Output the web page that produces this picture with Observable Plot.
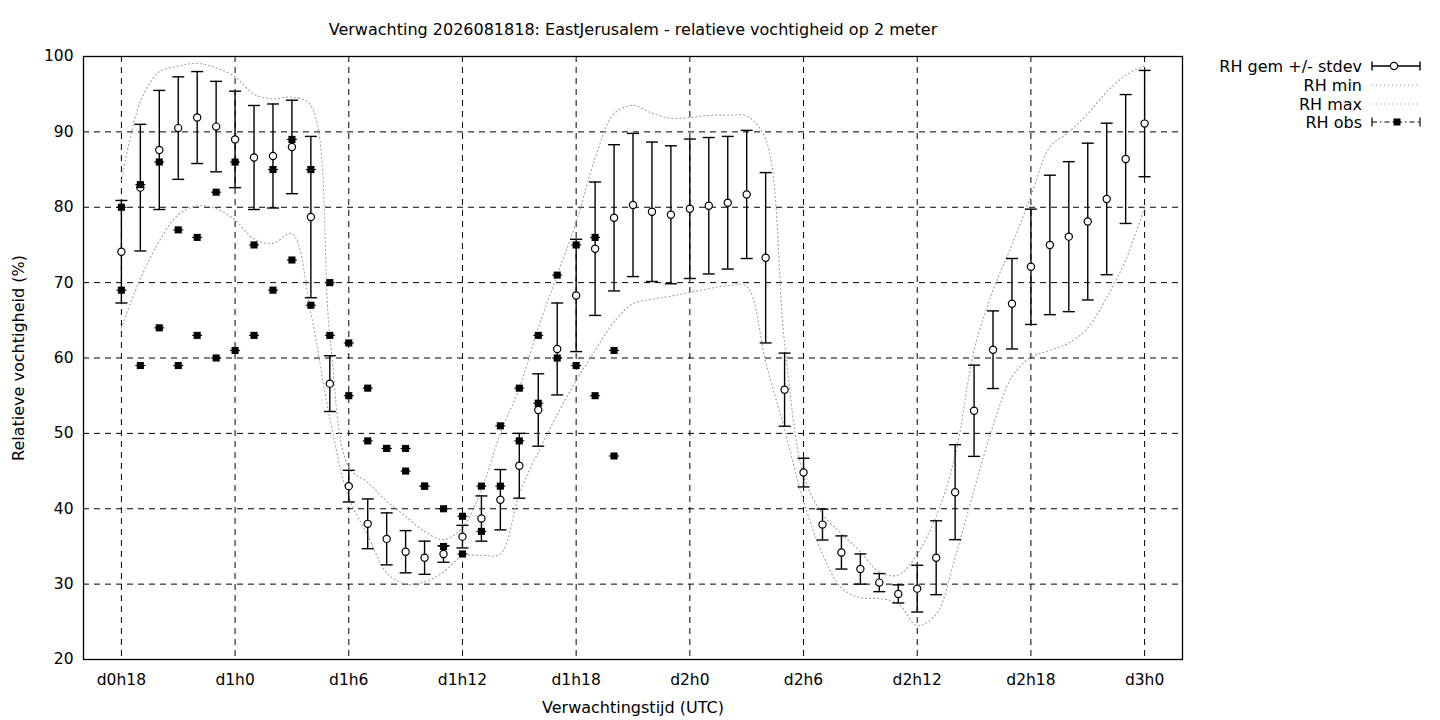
<!DOCTYPE html>
<html><head><meta charset="utf-8">
<script src="https://cdn.jsdelivr.net/npm/d3@7"></script>
<script src="https://cdn.jsdelivr.net/npm/@observablehq/plot@0.6"></script>
<style>
html,body{margin:0;padding:0;background:#fff;}
#wrap{position:relative;width:1440px;height:720px;overflow:hidden;}
</style></head><body><div id="wrap"></div>
<script>
// ---- data (hours since d0h0) ----
const hours = [18,19,20,21,22,23,24,25,26,27,28,29,30,31,32,33,34,35,36,37,38,39,40,41,42,43,44,45,46,47,48,49,50,51,52,53,54,55,56,57,58,59,60,61,62,63,64,65,66,67,68,69,70,71,72];
const rhMean = [74.1,82.6,87.6,90.5,91.9,90.7,89.0,86.6,86.8,88.0,78.7,56.6,43.0,38.0,36.0,34.3,33.5,34.0,36.3,38.7,41.2,45.7,53.1,61.2,68.3,74.5,78.6,80.3,79.4,79.0,79.8,80.2,80.6,81.7,73.3,55.8,44.8,37.9,34.2,32.0,30.2,28.7,29.4,33.5,42.2,53.0,61.1,67.2,72.1,75.0,76.1,78.1,81.1,86.4,91.1];
const rhStdev = [6.8,8.4,7.9,6.8,6.1,6.0,6.4,6.9,6.9,6.2,10.7,3.7,2.1,3.3,3.45,2.8,2.2,1.1,1.5,3.0,4.0,4.3,4.8,6.1,7.45,8.85,9.7,9.5,9.25,9.15,9.25,9.05,8.8,8.5,11.3,4.85,1.9,2.05,2.2,2.0,1.2,1.2,3.1,4.9,6.3,6.05,5.15,6.0,7.65,9.25,9.95,10.4,10.05,8.55,7.05];
const rhMin = [64,70.5,75.5,79,80.2,79.8,78.3,75.8,75.2,76.5,66,52,41.5,36.5,31.5,30,30.3,31.6,33.7,33.8,34,42,47.5,52.5,57,61,64.8,67.2,67.8,68.2,68.7,69.2,69.6,69.5,59.5,50.5,41,34,29.5,28.2,28.1,27.4,24.5,26,33.5,42.5,51,57.5,60.1,61,62,64,68,73,80];
const rhMax = [83.5,94,98,98.7,99.1,98.5,97.3,95,94.4,94.6,93.5,63,45.5,43.5,41,39,37,35.9,37.5,42.5,50,56,64,71,78,86.5,92.4,93.5,92.5,91.8,91.9,92.2,92.2,92.1,89,62,44.5,39.3,36.7,34.3,31.6,31.2,34,39,47,61,69,75,81.5,88,90,92.4,95.3,97.5,98.8];
const obsHours = [18,19,20,21,22,23,24,25,26,27,28,29,30,31,32,33,34,35,36,37,38,39,40,41,42,43,44];
const obsA = [80,83,86,77,76,82,86,75,85,89,85,70,62,56,48,48,43,40,39,43,51,56,63,71,75,76,61];
const obsB = [69,59,64,59,63,60,61,63,69,73,67,63,55,49,48,45,43,35,34,37,43,49,54,60,59,55,47];
const xTickValues = [18,24,30,36,42,48,54,60,66,72];
const xTickLabels = ["d0h18","d1h0","d1h6","d1h12","d1h18","d2h0","d2h6","d2h12","d2h18","d3h0"];
const yTickValues = [20,30,40,50,60,70,80,90,100];
const titleText = "Verwachting 2026081818: EastJerusalem - relatieve vochtigheid op 2 meter";
const xLabel = "Verwachtingstijd (UTC)";
const yLabel = "Relatieve vochtigheid (%)";
const legendLabels = ["RH gem +/- stdev","RH min","RH max","RH obs"];

// ---- tables ----
const rows = hours.map((h,i)=>({h, mean:rhMean[i], sd:rhStdev[i], min:rhMin[i], max:rhMax[i]}));
const obsRows = [];
obsHours.forEach((h,i)=>{ obsRows.push({h, v:obsA[i]}); obsRows.push({h, v:obsB[i]}); });

const capSymbol = {draw(ctx, size){ const r = Math.sqrt(size/Math.PI); ctx.moveTo(-r,0); ctx.lineTo(r,0); }};
const FONT = "DejaVu Sans";
const DOT_COLOR = "#a0a0a0";
const dotted = {stroke:DOT_COLOR, strokeWidth:1.1, strokeDasharray:"1.1,2.9", curve:"catmull-rom"};

const chart = Plot.plot({
  width:1440, height:720,
  marginLeft:83, marginRight:258, marginTop:56, marginBottom:61,
  style:{fontFamily:FONT, fontSize:"15.5px", color:"black", background:"white", overflow:"visible"},
  x:{domain:[16,74], ticks:xTickValues, tickFormat:d=>xTickLabels[xTickValues.indexOf(d)], tickSize:0, tickPadding:14, label:null},
  y:{domain:[20,100], ticks:yTickValues, tickSize:0, tickPadding:10, label:null},
  marks:[
    Plot.gridX(xTickValues, {stroke:"black", strokeOpacity:1, strokeWidth:1, strokeDasharray:"6,5"}),
    Plot.gridY(yTickValues, {stroke:"black", strokeOpacity:1, strokeWidth:1, strokeDasharray:"6,5"}),
    Plot.line(rows, {x:"h", y:"min", ...dotted}),
    Plot.line(rows, {x:"h", y:"max", ...dotted}),
    Plot.ruleX(rows, {x:"h", y1:d=>d.mean-d.sd, y2:d=>d.mean+d.sd, stroke:"black", strokeWidth:1.4}),
    Plot.dot(rows, {x:"h", y:d=>d.mean+d.sd, symbol:capSymbol, r:6, fill:"none", stroke:"black", strokeWidth:1.4}),
    Plot.dot(rows, {x:"h", y:d=>d.mean-d.sd, symbol:capSymbol, r:6, fill:"none", stroke:"black", strokeWidth:1.4}),
    Plot.dot(rows, {x:"h", y:"mean", r:3.6, fill:"white", stroke:"black", strokeWidth:1.2}),
    Plot.dot(obsRows, {x:"h", y:"v", symbol:capSymbol, r:5, fill:"none", stroke:"black", strokeWidth:1.1}),
    Plot.dot(obsRows, {x:"h", y:"v", symbol:"square", r:4, fill:"black", stroke:"none"}),
    Plot.frame({stroke:"black", strokeWidth:1.3}),
    Plot.text([titleText], {text:d=>d, frameAnchor:"top", dy:-27, lineAnchor:"middle", textAnchor:"middle", fill:"black", fontSize:16}),
    Plot.text([xLabel], {text:d=>d, frameAnchor:"bottom", dy:48, lineAnchor:"middle", textAnchor:"middle", fill:"black", fontSize:16}),
    Plot.text([yLabel], {text:d=>d, frameAnchor:"left", dx:-65, rotate:-90, lineAnchor:"middle", textAnchor:"middle", fill:"black", fontSize:16})
  ]
});
document.getElementById("wrap").appendChild(chart);

// ---- legend (drawn into the same SVG) ----
const svg = d3.select(chart);
const lg = svg.append("g").attr("font-family", FONT).attr("font-size", 16);
const rowY = [66, 85, 104, 122];
const xL0 = 1372, xL1 = 1420, xT = 1362;
legendLabels.forEach((lab,i)=>{
  lg.append("text").attr("x", xT).attr("y", rowY[i]).attr("dy","0.35em").attr("text-anchor","end").attr("fill","black").text(lab);
});
// row 0: error bar with circle
lg.append("line").attr("x1",xL0).attr("x2",xL1).attr("y1",rowY[0]).attr("y2",rowY[0]).attr("stroke","black").attr("stroke-width",1.4);
[xL0,xL1].forEach(x=>lg.append("line").attr("x1",x).attr("x2",x).attr("y1",rowY[0]-4.5).attr("y2",rowY[0]+4.5).attr("stroke","black").attr("stroke-width",1.4));
lg.append("circle").attr("cx",1394).attr("cy",rowY[0]).attr("r",3.6).attr("fill","white").attr("stroke","black").attr("stroke-width",1.2);
// rows 1,2: dotted gray
[1,2].forEach(i=>lg.append("line").attr("x1",xL0).attr("x2",xL1-2).attr("y1",rowY[i]).attr("y2",rowY[i]).attr("stroke",DOT_COLOR).attr("stroke-width",1.1).attr("stroke-dasharray","1.1,2.9"));
// row 3: obs dash-dot with caps and square
lg.append("line").attr("x1",xL0).attr("x2",xL1).attr("y1",rowY[3]).attr("y2",rowY[3]).attr("stroke","black").attr("stroke-width",1.2).attr("stroke-dasharray","5,3,1.5,3");
[xL0,xL1].forEach(x=>lg.append("line").attr("x1",x).attr("x2",x).attr("y1",rowY[3]-4.5).attr("y2",rowY[3]+4.5).attr("stroke","black").attr("stroke-width",1.2));
lg.append("rect").attr("x",1397-3.5).attr("y",rowY[3]-3.5).attr("width",7).attr("height",7).attr("fill","black");
</script>
</body></html>
